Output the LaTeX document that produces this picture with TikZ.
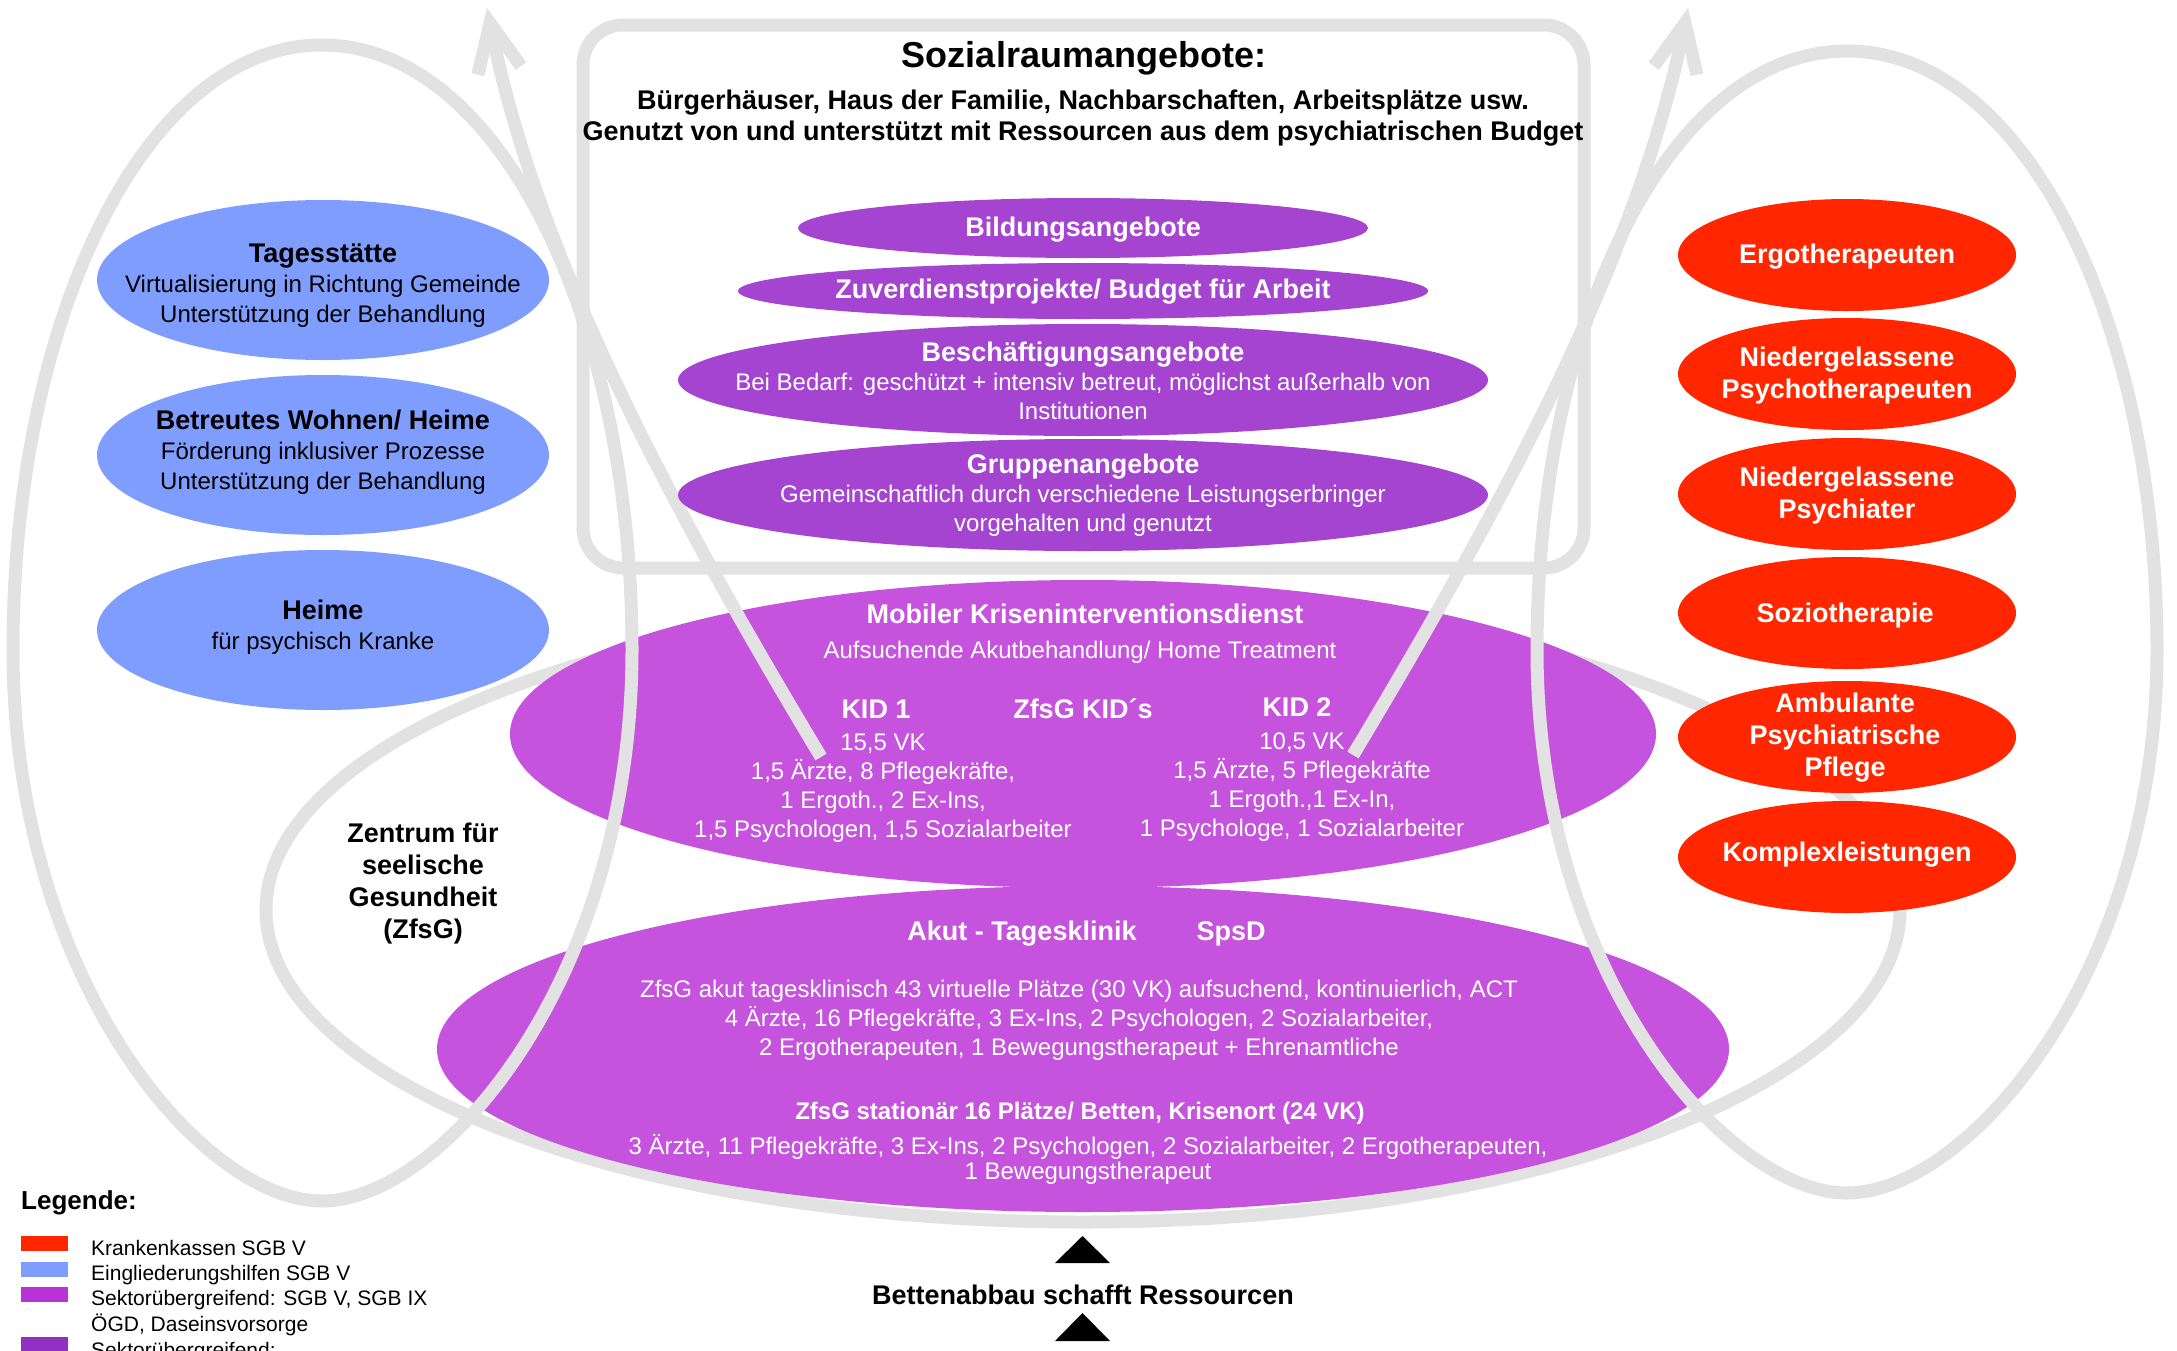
\documentclass[tikz,border=0pt]{standalone}
\usepackage{fontspec}
\setmainfont{Liberation Sans}
\usetikzlibrary{shapes.geometric,arrows.meta}
\definecolor{gr}{RGB}{226,226,226}
\definecolor{bl}{RGB}{127,157,254}
\definecolor{rd}{RGB}{255,38,0}
\definecolor{pu}{RGB}{165,68,208}
\definecolor{pk}{RGB}{198,83,221}
\definecolor{lpu}{RGB}{184,50,216}
\definecolor{dpu}{RGB}{147,48,196}
\newcommand\myfs[2]{\fontsize{#1}{#2}\selectfont}
\newcommand\bt[1]{{\bfseries\myfs{27}{29}#1}}
\begin{document}
\begin{tikzpicture}[x=1pt,y=-1pt,
  glin/.style={draw=gr,line width=13pt},
  bell/.style={ellipse,fill=bl,inner sep=0,minimum width=452pt,minimum height=160pt},
  rell/.style={ellipse,fill=rd,inner sep=0,minimum width=338pt,minimum height=112pt},
  sell/.style={ellipse,fill=pu,inner sep=0},
  bigell/.style={ellipse,fill=pk,inner sep=0},
  txt/.style={align=center,inner sep=0,font=\myfs{24}{29}},
  wtxt/.style={txt,text=white},
  rtxt/.style={align=center,inner sep=0,text=white,font=\bfseries\myfs{27}{32}},
  btxt/.style={align=center,inner sep=0,font=\bfseries\myfs{27}{32}},
  legtxt/.style={anchor=base west,inner sep=0,font=\myfs{21}{25}},
  legbox/.style={anchor=north west,inner sep=0,minimum width=47pt,minimum height=15pt}
]
\useasboundingbox (0,0) rectangle (2177,1350);
\clip (0,0) rectangle (2177,1350);
\fill[white] (0,0) rectangle (2177,1350);

% ZfsG loop (behind)
\draw[glin] (1083,910) ellipse [x radius=817, y radius=312];

% big purple ellipses
\node[bigell,minimum width=1146pt,minimum height=308pt] (mob) at (1083,734) {};
\node[bigell,minimum width=1292pt,minimum height=326pt] (akut) at (1083,1049) {};

% Sozialraum frame
\node[draw=gr,line width=13pt,rounded corners=40pt,minimum width=1001pt,minimum height=543pt,inner sep=0] (soz) at (1083.5,296.5) {};

% left and right loops
\draw[glin] (322,45) .. controls (500,45) and (632,320) .. (632,650)
  .. controls (632,980) and (442,1201) .. (322,1201)
  .. controls (202,1201) and (13,980) .. (13,650)
  .. controls (13,320) and (144,45) .. cycle;
\draw[glin] (1847,51) .. controls (2025,51) and (2157,322) .. (2157,650)
  .. controls (2157,975) and (1967,1193) .. (1847,1193)
  .. controls (1727,1193) and (1537,975) .. (1537,650)
  .. controls (1537,322) and (1669,51) .. cycle;

% arrows
\coordinate (a1s) at (821,757);
\coordinate (a1e) at (487,8);
\coordinate (a2s) at (1353,755);
\coordinate (a2e) at (1688,8);
\draw[glin,-{Straight Barb[length=48pt,width=44pt]}] (a1s) .. controls (671,507) and (537,258) .. (a1e);
\draw[glin,-{Straight Barb[length=48pt,width=44pt]}] (a2s) .. controls (1503,505) and (1638,255) .. (a2e);

% Sozialraum texts
\node[inner sep=0,font=\bfseries\myfs{36}{40}] (sozt) at (1084,58) {Sozialraumangebote:};
\node[btxt,font=\bfseries\myfs{27}{31}] (sozs) at (1083,118.5) {Bürgerhäuser, Haus der Familie, Nachbarschaften, Arbeitsplätze usw.\\Genutzt von und unterstützt mit Ressourcen aus dem psychiatrischen Budget};

% Sozialraum ellipses
\node[sell,minimum width=570pt,minimum height=60pt] (bild) at (1083,228) {};
\node[rtxt] at (1083,230) {Bildungsangebote};
\node[sell,minimum width=690pt,minimum height=56pt] (zuv) at (1083,291) {};
\node[rtxt] at (1083,292) {Zuverdienstprojekte/ Budget für Arbeit};
\node[sell,minimum width=810pt,minimum height=112pt] (besch) at (1083,380) {};
\node[wtxt] at (besch.center) [yshift=-1pt] {\bt{Beschäftigungsangebote}\\Bei Bedarf: geschützt + intensiv betreut, möglichst außerhalb von\\Institutionen};
\node[sell,minimum width=810pt,minimum height=112pt] (grup) at (1083,495) {};
\node[wtxt] at (1083,495) {\bt{Gruppenangebote}\\Gemeinschaftlich durch verschiedene Leistungserbringer\\vorgehalten und genutzt};

% blue ellipses
\node[bell] (tag) at (323,280) {};
\node[txt,font=\myfs{24}{30}] at (323,286) {\bt{Tagesstätte}\\Virtualisierung in Richtung Gemeinde\\Unterstützung der Behandlung};
\node[bell] (bw) at (323,455) {};
\node[txt,font=\myfs{24}{30}] at (323,452) {\bt{Betreutes Wohnen/ Heime}\\Förderung inklusiver Prozesse\\Unterstützung der Behandlung};
\node[bell] (heim) at (323,630) {};
\node[txt,font=\myfs{24}{30}] at (323,627) {\bt{Heime}\\für psychisch Kranke};

% red ellipses
\node[rell] (ergo) at (1847,255) {};
\node[rtxt] at (1847,257) {Ergotherapeuten};
\node[rell] (npt) at (1847,374) {};
\node[rtxt] at (1847,376) {Niedergelassene\\Psychotherapeuten};
\node[rell] (npa) at (1847,494) {};
\node[rtxt] at (1847,496) {Niedergelassene\\Psychiater};
\node[rell] (sozio) at (1847,613) {};
\node[rtxt] at (1845,616) {Soziotherapie};
\node[rell] (amb) at (1847,737) {};
\node[rtxt] at (1845,738) {Ambulante\\Psychiatrische\\Pflege};
\node[rell] (kompl) at (1847,857) {};
\node[rtxt] at (1847,855) {Komplexleistungen};

% Mobiler texts
\node[inner sep=0,text=white,font=\bfseries\myfs{27}{30}] (mobt) at (1085,614) {Mobiler Kriseninterventionsdienst};
\node[wtxt] (mobs) at (1080,652) {Aufsuchende Akutbehandlung/ Home Treatment};
\node[rtxt] (kid1) at (876,709) {KID 1};
\node[rtxt] (kidz) at (1083,709) {ZfsG KID´s};
\node[rtxt] (kid2) at (1297,707) {KID 2};
\node[wtxt] (kid1b) at (883,788.5) {15,5 VK\\1,5 Ärzte, 8 Pflegekräfte,\\1 Ergoth., 2 Ex-Ins,\\1,5 Psychologen, 1,5 Sozialarbeiter};
\node[wtxt] (kid2b) at (1302,787) {10,5 VK\\1,5 Ärzte, 5 Pflegekräfte\\1 Ergoth.,1 Ex-In,\\1 Psychologe, 1 Sozialarbeiter};

% Akut texts
\node[rtxt] (akt) at (1022,934) {Akut - Tagesklinik};
\node[rtxt] (spsd) at (1231,934) {SpsD};
\node[wtxt] (akb) at (1079,1020.5) {ZfsG akut tagesklinisch 43 virtuelle Plätze (30 VK) aufsuchend, kontinuierlich, ACT\\4 Ärzte, 16 Pflegekräfte, 3 Ex-Ins, 2 Psychologen, 2 Sozialarbeiter,\\2 Ergotherapeuten, 1 Bewegungstherapeut + Ehrenamtliche};
\node[inner sep=0,text=white,font=\bfseries\myfs{24}{29}] (stat) at (1080,1113) {ZfsG stationär 16 Plätze/ Betten, Krisenort (24 VK)};
\node[wtxt,font=\myfs{24}{25}] (statb) at (1088,1159) {3 Ärzte, 11 Pflegekräfte, 3 Ex-Ins, 2 Psychologen, 2 Sozialarbeiter, 2 Ergotherapeuten,\\1 Bewegungstherapeut};

% ZfsG label
\node[btxt] (zfsg) at (423,884) {Zentrum für\\seelische\\Gesundheit\\(ZfsG)};

% bottom
\fill (1055,1263) -- (1082.5,1236) -- (1110,1263) -- cycle;
\node[btxt] (bett) at (1083,1295) {Bettenabbau schafft Ressourcen};
\fill (1055,1341) -- (1082.5,1313) -- (1110,1341) -- cycle;

% legend
\node[anchor=west,inner sep=0,font=\bfseries\myfs{26}{30}] (leg) at (21,1203) {Legende:};
\node[legbox,fill=rd] (l1) at (21,1236) {};
\node[legtxt] at (91,1255) {Krankenkassen SGB V};
\node[legbox,fill=bl] (l2) at (21,1262) {};
\node[legtxt] at (91,1280) {Eingliederungshilfen SGB V};
\node[legbox,fill=lpu] (l3) at (21,1287) {};
\node[legtxt] at (91,1305) {Sektorübergreifend: SGB V, SGB IX};
\node[legtxt] at (91,1331) {ÖGD, Daseinsvorsorge};
\node[legbox,fill=dpu] (l4) at (21,1337) {};
\node[legtxt] at (91,1357) {Sektorübergreifend:};
\end{tikzpicture}
\end{document}
